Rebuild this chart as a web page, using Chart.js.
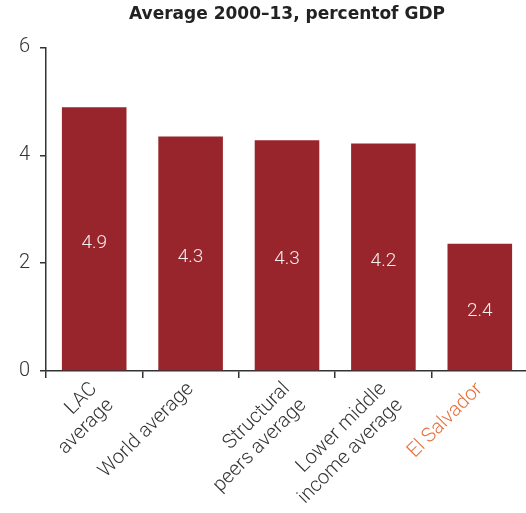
<!DOCTYPE html>
<html>
<head>
<meta charset="utf-8">
<script src="https://cdn.jsdelivr.net/npm/chart.js@4/dist/chart.umd.min.js"></script>
<style>
  html, body { margin: 0; padding: 0; background: #fff; overflow: hidden; }
  #wrap { position: relative; width: 532px; height: 513px; }
</style>
</head>
<body>
<div id="wrap"><canvas id="chart"></canvas></div>
<script>
// Data
const categories = [
  ['LAC', 'average'],
  ['World average'],
  ['Structural', 'peers average'],
  ['Lower middle', 'income average'],
  ['El Salvador']
];
const values = [4.89, 4.35, 4.28, 4.22, 2.36];
const valueLabels = ['4.9', '4.3', '4.3', '4.2', '2.4'];
const yTicks = [0, 2, 4, 6];

const barColor = '#97252B';
const textColor = '#333333';
const highlightColor = '#E8703A';

// draws the value in the middle of each bar
const barLabels = {
  id: 'barLabels',
  afterDatasetsDraw(chart) {
    const ctx = chart.ctx;
    const meta = chart.getDatasetMeta(0);
    ctx.save();
    ctx.fillStyle = '#F6ECEC';
    ctx.font = '300 19px Roboto, "Noto Sans", sans-serif';
    ctx.textAlign = 'center';
    ctx.textBaseline = 'middle';
    meta.data.forEach((bar, i) => {
      const mid = (bar.y + bar.base) / 2 + 4;
      ctx.fillText(valueLabels[i], bar.x, mid);
    });
    ctx.restore();
  }
};

new Chart(document.getElementById('chart'), {
  type: 'bar',
  data: {
    labels: categories,
    datasets: [{
      data: values,
      backgroundColor: barColor,
      barPercentage: 0.67,
      categoryPercentage: 1
    }]
  },
  options: {
    responsive: true,
    maintainAspectRatio: false,
    animation: false,
    layout: { padding: { right: 4, left: 0, bottom: 0 } },
    plugins: {
      legend: { display: false },
      tooltip: { enabled: false },
      title: {
        display: true,
        fullSize: false,
        text: 'Average 2000–13, percentof GDP',
        color: '#222',
        font: { family: '"DejaVu Sans", sans-serif', size: 17, weight: 'bold', lineHeight: 1.2 },
        padding: { top: 4, bottom: 23 }
      }
    },
    scales: {
      x: {
        grid: { display: true, drawOnChartArea: false, tickLength: 7, color: textColor, lineWidth: 1.5 },
        border: { display: true, color: textColor, width: 1.5 },
        ticks: {
          autoSkip: false,
          maxRotation: 45,
          minRotation: 45,
          padding: 0,
          color: (c) => c.index === 4 ? highlightColor : textColor,
          font: { family: 'Roboto, "Noto Sans", sans-serif', size: 20, weight: 300, lineHeight: 1.15 }
        },
        afterFit(scale) { scale.height = 142; }
      },
      y: {
        min: 0,
        max: 6,
        afterBuildTicks(scale) { scale.ticks = yTicks.map(v => ({ value: v })); },
        grid: { display: true, drawOnChartArea: false, tickLength: 6, color: textColor, lineWidth: 1.5 },
        border: { display: true, color: textColor, width: 1.5 },
        ticks: {
          padding: 10,
          color: textColor,
          font: { family: 'Roboto, "Noto Sans", sans-serif', size: 20, weight: 300 }
        },
        afterFit(scale) { scale.width = 46; }
      }
    }
  },
  plugins: [barLabels]
});
</script>
</body>
</html>
